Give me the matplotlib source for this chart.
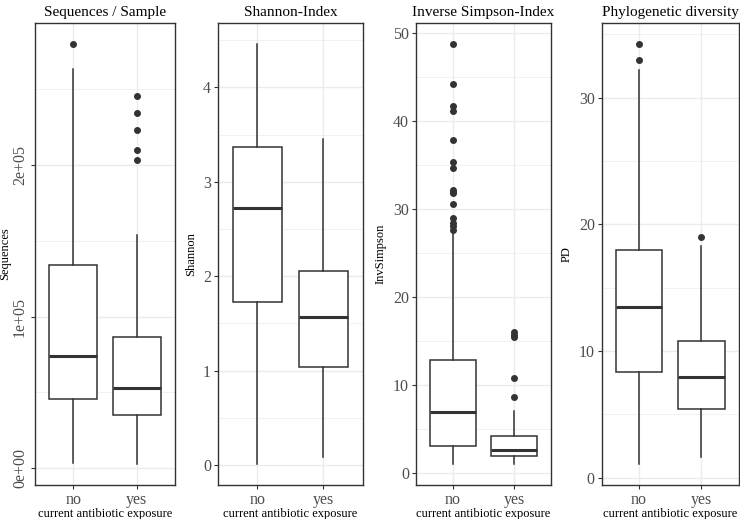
import matplotlib
matplotlib.use("Agg")
import matplotlib.pyplot as plt
from matplotlib.ticker import MultipleLocator, FuncFormatter

plt.rcParams['font.family'] = ['Liberation Serif', 'DejaVu Serif']

groups = ["no", "yes"]
titles = ["Sequences / Sample", "Shannon-Index", "Inverse Simpson-Index", "Phylogenetic diversity"]
ylabels = ["Sequences", "Shannon", "InvSimpson", "PD"]

# box stats per panel: [no, yes] -> (lower whisker, q1, median, q3, upper whisker)
seq_stats = [(3550, 45660, 73700, 134000, 262800), (2900, 35300, 52600, 86200, 153900)]
seq_out = [[279600], [245200, 234200, 222800, 209500, 203100]]

shannon_stats = [(0.01, 1.729, 2.722, 3.368, 4.463), (0.08, 1.035, 1.568, 2.056, 3.449)]
shannon_out = [[], []]

invs_stats = [(1.02, 3.07, 6.93, 12.83, 27.3), (1.02, 1.97, 2.65, 4.16, 7.08)]
invs_out = [[48.80, 44.25, 41.71, 41.15, 37.89, 35.39, 34.64, 32.14, 31.98, 31.85,
             30.55, 29.03, 28.43, 28.05, 27.59],
            [15.97, 15.71, 15.40, 10.79, 8.59]]

pd_stats = [(1.08, 8.34, 13.45, 18.0, 32.21), (1.66, 5.39, 7.97, 10.76, 18.32)]
pd_out = [[34.26, 32.97], [18.97]]

panels = [
    (seq_stats, seq_out, 1e5, 0.5e5),
    (shannon_stats, shannon_out, 1, 0.5),
    (invs_stats, invs_out, 10, 5),
    (pd_stats, pd_out, 10, 5),
]

# axes positions in pixels (left, right) and y label anchor x
px = [(35, 175), (218, 362.7), (416, 551), (601.7, 738.7)]
ylab_x = [11, 197, 387, 573]
W, H = 740, 519
top, bot = 22.7, 485

fig = plt.figure(figsize=(7.4, 5.19), dpi=100)
dark = "#333333"
grey = "#4D4D4D"
grid = "#EBEBEB"

for i, (stats, outs, major, minor) in enumerate(panels):
    l, r = px[i]
    ax = fig.add_axes([l / W, (H - bot) / H, (r - l) / W, (bot - top) / H])
    bxp = []
    for (lo, q1, med, q3, hi), fl, g in zip(stats, outs, groups):
        bxp.append(dict(whislo=lo, q1=q1, med=med, q3=q3, whishi=hi, fliers=fl, label=g))
    ax.bxp(bxp, positions=[1, 2], widths=0.75, showcaps=False, patch_artist=True,
           boxprops=dict(facecolor="white", edgecolor=dark, linewidth=1.1),
           whiskerprops=dict(color=dark, linewidth=1.1),
           medianprops=dict(color=dark, linewidth=2.2, solid_capstyle="butt"),
           flierprops=dict(marker="o", markerfacecolor=dark, markeredgecolor=dark,
                           markersize=4, linestyle="none"),
           zorder=3)
    allv = [v for s in stats for v in (s[0], s[4])] + [v for fl in outs for v in fl]
    lo, hi = min(allv), max(allv)
    pad = 0.05 * (hi - lo)
    ax.set_ylim(lo - pad, hi + pad)
    ax.set_xlim(0.4, 2.6)
    ax.yaxis.set_major_locator(MultipleLocator(major))
    ax.yaxis.set_minor_locator(MultipleLocator(minor))
    ax.grid(which="major", color=grid, linewidth=1.0, zorder=0)
    ax.grid(which="minor", axis="y", color=grid, linewidth=0.5, zorder=0)
    ax.set_axisbelow(True)
    for sp in ax.spines.values():
        sp.set_color(dark)
        sp.set_linewidth(1.0)
    ax.tick_params(which="major", length=3, color=dark, labelcolor=grey, labelsize=11.5, pad=2)
    ax.tick_params(which="minor", length=0)
    ax.set_xticks([1, 2])
    ax.set_xticklabels(groups)
    if i == 0:
        ax.yaxis.set_major_formatter(FuncFormatter(lambda v, p: "%.0e" % v if v else "0e+00"))
        for t in ax.get_yticklabels():
            t.set_rotation(90)
            t.set_va("center")
    ax.set_title(titles[i], fontsize=11, pad=5)
    ax.set_ylabel(ylabels[i], fontsize=9)
    ax.yaxis.set_label_coords((ylab_x[i] - l) / (r - l), 0.5)
    ax.set_xlabel("current antibiotic exposure", fontsize=9, labelpad=0)

fig.savefig("out.png", dpi=100)
